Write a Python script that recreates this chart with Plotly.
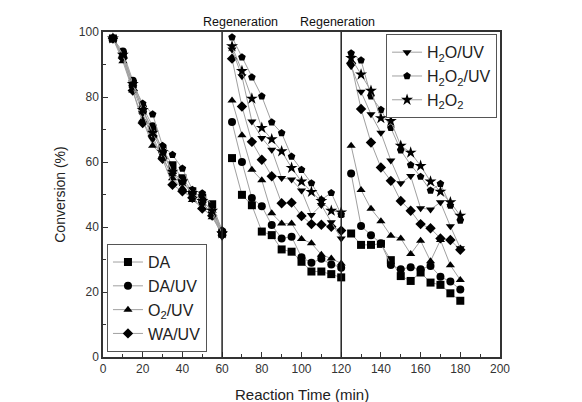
import plotly.graph_objects as go

# Reaction times for the three runs (min)
t_run1 = [5, 10, 15, 20, 25, 30, 35, 40, 45, 50, 55, 60]
t_run2 = [65, 70, 75, 80, 85, 90, 95, 100, 105, 110, 115, 120]
t_run3 = [125, 130, 135, 140, 145, 150, 155, 160, 165, 170, 175, 180]

regen_times = [60, 120]
regen_label = "Regeneration"
x_title = "Reaction Time (min)"
y_title = "Conversion (%)"

# Conversion (%) per series, run1 / run2 / run3
DA_1 = [98, 93, 84, 76, 70, 64, 59, 55, 51, 49, 47, 38]
DA_2 = [61.2, 49.9, 46.7, 38.6, 37.5, 33.1, 32.4, 29.3, 26.3, 26.3, 25.5, 24.5]
DA_3 = [38, 34.5, 34.5, 34.8, 29.8, 24.9, 23.4, 26, 22.9, 22.2, 19.6, 17.3]

DAUV_1 = [98, 94, 85, 77, 71, 63, 57, 54, 50.5, 48, 45, 38.5]
DAUV_2 = [72.3, 60, 48.9, 46.4, 40.6, 36.5, 37, 30.7, 29, 30.2, 28.5, 27.5]
DAUV_3 = [56.5, 40.3, 37.5, 35, 28.3, 27, 27.6, 27, 28, 24.7, 23.2, 20.8]

O2UV_1 = [98, 91, 82, 73, 65, 62, 55, 52, 48.3, 46, 43, 38]
O2UV_2 = [78.9, 68.2, 57.6, 54.4, 44.2, 41.1, 41.1, 36.3, 35, 31.5, 30.3, 28.8]
O2UV_3 = [65, 51.4, 45.6, 41.8, 37.3, 36.5, 31.7, 35.8, 29.5, 36, 28.2, 23.7]

WAUV_1 = [98, 92, 82, 72, 68, 61, 53, 51, 49, 45.7, 43.5, 38.5]
WAUV_2 = [91.8, 77.1, 66.2, 60.7, 55.6, 47.3, 47.5, 43.4, 40.9, 40.7, 40.1, 38.9]
WAUV_3 = [90.4, 76.3, 66, 58.3, 54.2, 48, 45, 40.9, 39.6, 36.5, 36, 33]

H2OUV_1 = [98, 92, 83, 75, 67, 61, 56, 54, 50, 47, 44, 37]
H2OUV_2 = [94.6, 86.4, 72.5, 67.4, 63.8, 55.1, 54.6, 51.2, 43.7, 46.8, 41.5, 36.5]
H2OUV_3 = [89.5, 81.6, 74.7, 69, 60.5, 53.5, 55.7, 45.8, 45.4, 47.6, 40.2, 33.5]

H2O2UV_1 = [98, 93, 84, 78, 74.7, 65, 62.2, 58, 51.5, 50.4, 46.8, 39]
H2O2UV_2 = [98.4, 92.2, 86.1, 80.2, 72.2, 68.9, 61.7, 57.6, 53.5, 48.4, 50.5, 43.8]
H2O2UV_3 = [93.5, 91.3, 80.2, 76.1, 70.5, 63.6, 59.1, 55.5, 51.2, 53.3, 46.6, 42]

H2O2_1 = [98, 93, 84, 76, 69, 63, 57, 54, 50.5, 48, 45, 38]
H2O2_2 = [95.6, 88, 79.5, 70.5, 67, 63.3, 58.2, 54, 50.8, 48, 45, 44.5]
H2O2_3 = [92, 86.9, 81.9, 73.5, 72.6, 65, 62.9, 58.8, 54, 50.9, 47.6, 43.5]

series = [
    ("DA", DA_1, DA_2, DA_3, "square", "legend"),
    ("DA/UV", DAUV_1, DAUV_2, DAUV_3, "circle", "legend"),
    ("O<sub>2</sub>/UV", O2UV_1, O2UV_2, O2UV_3, "triangle-up", "legend"),
    ("WA/UV", WAUV_1, WAUV_2, WAUV_3, "diamond", "legend"),
    ("H<sub>2</sub>O/UV", H2OUV_1, H2OUV_2, H2OUV_3, "triangle-down", "legend2"),
    ("H<sub>2</sub>O<sub>2</sub>/UV", H2O2UV_1, H2O2UV_2, H2O2UV_3, "pentagon", "legend2"),
    ("H<sub>2</sub>O<sub>2</sub>", H2O2_1, H2O2_2, H2O2_3, "star", "legend2"),
]

FONT = "Liberation Sans, Arial, sans-serif"

fig = go.Figure()
for name, r1, r2, r3, sym, leg in series:
    xs = t_run1 + [None] + t_run2 + [None] + t_run3
    ys = r1 + [None] + r2 + [None] + r3
    fig.add_trace(go.Scatter(
        x=xs, y=ys, name=name, mode="lines+markers",
        line=dict(color="#a0a0a0", width=1),
        marker=dict(symbol=sym, size=8 if sym != "star" else 9, color="black",
                    line=dict(width=0)),
        legend=leg, connectgaps=False,
    ))

for t in regen_times:
    fig.add_shape(type="line", xref="x", yref="paper", x0=t, x1=t, y0=0, y1=1,
                  line=dict(color="#222", width=1.5))

label_pos = [69.5, 118]
for xp in label_pos:
    fig.add_annotation(x=xp, y=1, xref="x", yref="paper", text=regen_label,
                       showarrow=False, yanchor="bottom", yshift=1,
                       font=dict(family=FONT, size=12.5, color="#111"))

# x-axis title as paper annotation so margins stay fixed
fig.add_annotation(x=0.5, y=0, xref="paper", yref="paper", text=x_title,
                   showarrow=False, yanchor="top", yshift=-27,
                   font=dict(family=FONT, size=15, color="#222"))

axis_common = dict(showline=True, linecolor="#333", linewidth=1.5, mirror=True,
                   ticks="inside", tickcolor="#333", ticklen=5, tickwidth=1,
                   showgrid=False, zeroline=False,
                   tickfont=dict(family=FONT, size=12, color="#333"))

fig.update_xaxes(range=[0, 200], dtick=20, automargin=False,
                 minor=dict(ticks="inside", dtick=10, ticklen=3, tickcolor="#333"),
                 **axis_common)
fig.update_yaxes(range=[0, 100], dtick=20, automargin=False,
                 minor=dict(ticks="inside", dtick=10, ticklen=3, tickcolor="#333"),
                 title=dict(text=y_title, font=dict(family=FONT, size=14, color="#222"),
                            standoff=10),
                 **axis_common)

legend_style = dict(bgcolor="white", bordercolor="#555", borderwidth=1,
                    font=dict(family=FONT, size=16, color="#222"),
                    itemwidth=30, tracegroupgap=0)

fig.update_layout(
    width=582, height=402,
    margin=dict(l=103, r=82, t=32, b=45),
    paper_bgcolor="white", plot_bgcolor="white",
    legend=dict(x=0.01, y=0.015, xanchor="left", yanchor="bottom", **legend_style),
    legend2=dict(x=0.713, y=0.993, xanchor="left", yanchor="top", **legend_style),
)

fig.write_html("out.html")
